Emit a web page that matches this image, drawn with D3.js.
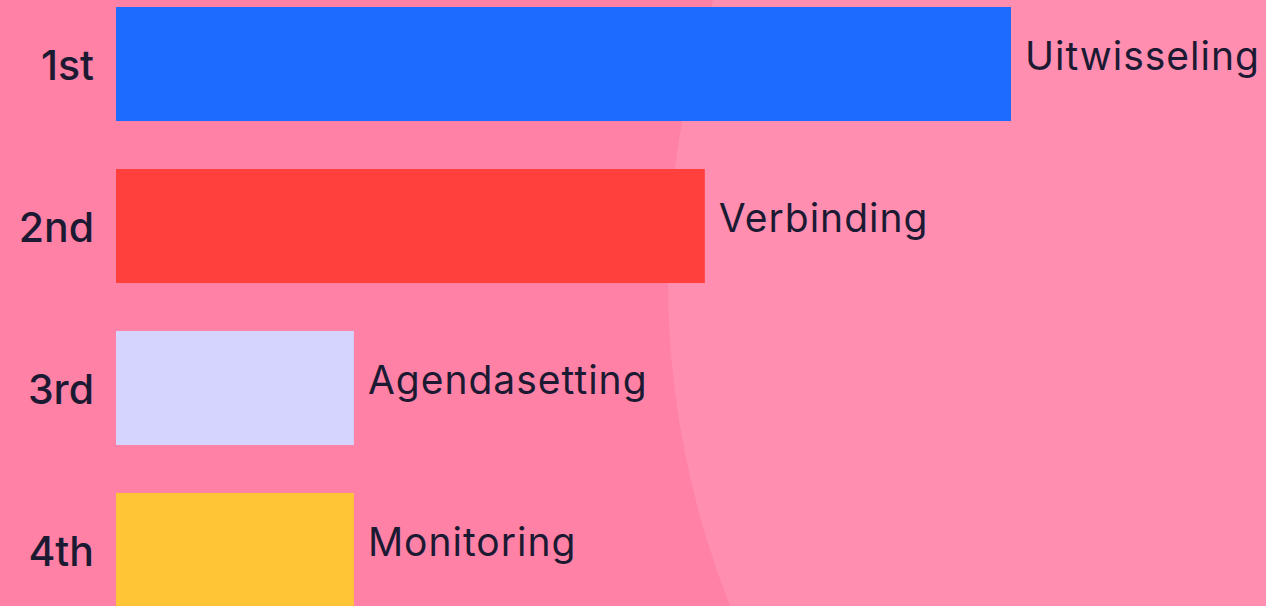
<!DOCTYPE html>
<html>
<head>
<meta charset="utf-8">
<script src="https://cdn.jsdelivr.net/npm/d3@7"></script>
<style>
  html, body { margin: 0; padding: 0; background: #ff82a6; overflow: hidden; }
  svg { display: block; }
  .rank { font-family: Inter, "Open Sans", sans-serif; font-weight: 500; font-size: 41px; fill: #1c1a33; }
  .name { font-family: Inter, "Open Sans", sans-serif; font-weight: 400; font-size: 39px; letter-spacing: 1px; fill: #1c1a33; }
</style>
</head>
<body>
<svg id="chart"></svg>
<script>
// data
let ranks = ["1st", "2nd", "3rd", "4th"]
let names = ["Uitwisseling", "Verbinding", "Agendasetting", "Monitoring"]
let values = [38, 25, 10.1, 10.1]
let colors = ["#1e6bff", "#ff403d", "#d4d4ff", "#ffc536"]

let width = 1266,
    height = 606,
    margins = {left: 116, right: 255, top: 7, bottom: -1};

let svg = d3.select("#chart").attr("width", width).attr("height", height)

// background: big lighter circle on the right
svg.append("rect").attr("width", width).attr("height", height).attr("fill", "#ff82a6")
svg.append("circle")
  .attr("cx", 1556).attr("cy", 280).attr("r", 888)
  .attr("fill", "#ff8eb0")

let data = ranks.map((r, i) => ({rank: r, name: names[i], value: values[i], color: colors[i]}))

let x = d3.scaleLinear()
  .domain([0, d3.max(values)])
  .range([margins.left, width - margins.right])

let y = d3.scaleBand()
  .domain(ranks)
  .range([margins.top, height - margins.bottom])
  .paddingInner(0.296)
  .paddingOuter(0)

svg.append("g")
  .selectAll("rect")
  .data(data).enter()
  .append("rect")
  .attr("x", x(0))
  .attr("y", d => y(d.rank))
  .attr("width", d => x(d.value) - x(0))
  .attr("height", y.bandwidth())
  .attr("fill", d => d.color)

svg.append("g")
  .selectAll("text")
  .data(data).enter()
  .append("text")
  .attr("class", "rank")
  .attr("text-anchor", "end")
  .attr("x", x(0) - 22)
  .attr("y", d => y(d.rank) + y.bandwidth() / 2 + 16)
  .text(d => d.rank)

svg.append("g")
  .selectAll("text")
  .data(data).enter()
  .append("text")
  .attr("class", "name")
  .attr("x", d => x(d.value) + 14)
  .attr("y", d => y(d.rank) + y.bandwidth() / 2 + 6)
  .text(d => d.name)
</script>
</body>
</html>
